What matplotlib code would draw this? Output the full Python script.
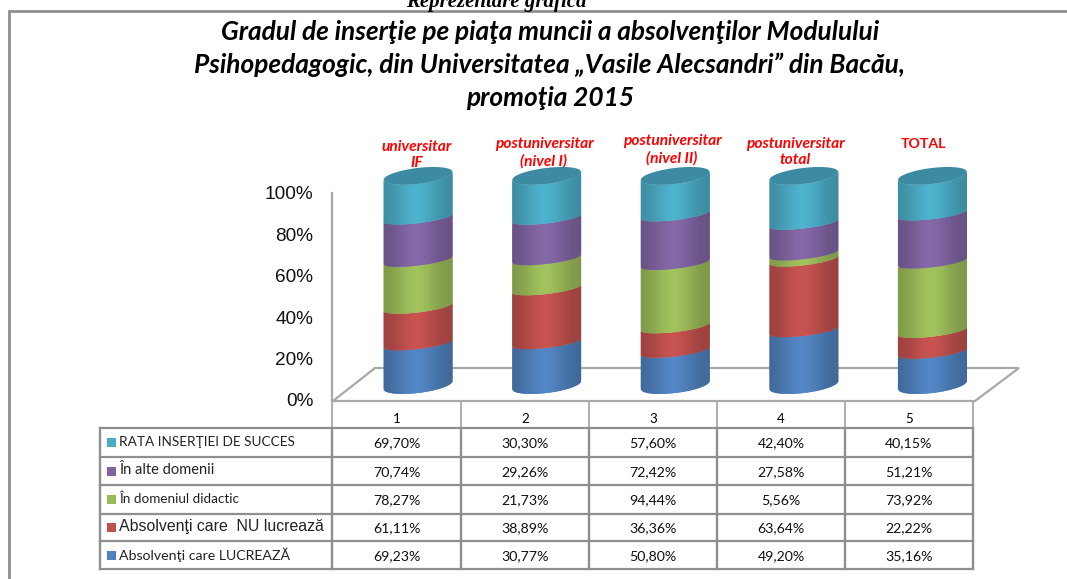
import numpy as np
import matplotlib
matplotlib.use("Agg")
import matplotlib.pyplot as plt
from matplotlib.collections import PolyCollection

W, H = 1067, 579
categories = ["1", "2", "3", "4", "5"]
group_labels = ["universitar\nIF", "postuniversitar\n(nivel I)", "postuniversitar\n(nivel II)",
                "postuniversitar\ntotal", "TOTAL"]
lucreaza = [69.23, 30.77, 50.80, 49.20, 35.16]
nu_lucreaza = [61.11, 38.89, 36.36, 63.64, 22.22]
didactic = [78.27, 21.73, 94.44, 5.56, 73.92]
alte = [70.74, 29.26, 72.42, 27.58, 51.21]
rata = [69.70, 30.30, 57.60, 42.40, 40.15]
series_names = ["RATA INSERŢIEI DE SUCCES", "În alte domenii", "În domeniul didactic",
                "Absolvenţi care  NU lucrează", "Absolvenţi care LUCREAZĂ"]
series_values = [rata, alte, didactic, nu_lucreaza, lucreaza]
series_colors = ["#4bacc6", "#8064a2", "#9bbb59", "#c0504d", "#4f81bd"]
y_ticks = [0, 20, 40, 60, 80, 100]
title = "Gradul de inserţie pe piaţa muncii a absolvenţilor Modulului\nPsihopedagogic, din Universitatea „Vasile Alecsandri” din Bacău,\npromoţia 2015"

GREY = "#8f8f8f"
LIGHT = "#a8a8a8"
fig = plt.figure(figsize=(W / 100, H / 100), dpi=100, facecolor="white")

# pixel-space layer for the page furniture and the table
bg = fig.add_axes([0, 0, 1, 1])
bg.set_xlim(0, W); bg.set_ylim(H, 0); bg.axis("off")
bg.plot([9, 9, W], [H, 11, 11], color=GREY, lw=2, solid_joinstyle="miter")
bg.text(496, 7, "Reprezentare grafică", family="Liberation Serif", weight="bold", style="italic",
        fontsize=15, ha="center", va="baseline", color="black")
bg.text(550, 65, title, family="Lato", weight="bold", style="italic", fontsize=18.9,
        ha="center", va="center", linespacing=1.42, color="black")

# group captions
cap_xy = [(417, 155), (544, 153), (672, 150), (795, 152), (923, 144)]
for lab, (cx, cy) in zip(group_labels, cap_xy):
    upright = lab == "TOTAL"
    bg.text(cx, cy, lab, family="Lato", weight="bold", style="normal" if upright else "italic",
            fontsize=10.2 if upright else 11.2, color="#ff0000", ha="center", va="center", linespacing=1.26)

# floor
bg.plot([333, 375, 1019, 975], [401, 368, 368, 401], color=LIGHT, lw=1.6, solid_joinstyle="miter")

# table
col_x = [332, 461, 589, 717, 845, 973]
row_y = [428, 457, 485, 514, 541, 569]
name_sizes = [9.8, 10.5, 9.7, 11.4, 10.2]
bg.plot([332, 973], [401, 401], color=LIGHT, lw=1.6)
for x in col_x:
    bg.plot([x, x], [401, 428], color=LIGHT, lw=1.3)
for y in row_y:
    bg.plot([100, 973], [y, y], color=GREY, lw=1.6)
for x in [100] + col_x:
    bg.plot([x, x], [428, 569], color=GREY, lw=1.7)
for i, c in enumerate(categories):
    bg.text((col_x[i] + col_x[i + 1]) / 2, 419, c, family="Lato", fontsize=9.6, ha="center", va="center")
for r, (name, vals, col, fs) in enumerate(zip(series_names, series_values, series_colors, name_sizes)):
    yc = (row_y[r] + row_y[r + 1]) / 2
    bg.fill([107, 116, 116, 107], [yc - 4.5, yc - 4.5, yc + 4.5, yc + 4.5], color=col, lw=0)
    arial = "NU" in name
    bg.text(119, yc - 0.5, name, family="Liberation Sans" if arial else "Lato",
            fontsize=fs, ha="left", va="center", color="#222222")
    for i, v in enumerate(vals):
        bg.text((col_x[i] + col_x[i + 1]) / 2, yc + 0.7, f"{v:.2f}%".replace(".", ","), family="Lato",
                fontsize=10.2, ha="center", va="center", color="#111111")

# chart layer: x by category, y in percent
left, right, y0px, y100px = 332, 1019, 400, 193
spacing, first = 128.6, 418
ax = fig.add_axes([left / W, 1 - y0px / H, (right - left) / W, (y0px - y100px) / H])
ax.patch.set_alpha(0)
ax.set_xlim(1 + (left - first) / spacing, 1 + (right - first) / spacing)
ax.set_ylim(0, 100)
ax.set_xticks([])
ax.set_yticks(y_ticks)
ax.set_yticklabels([f"{t}%" for t in y_ticks], family="Liberation Sans", fontsize=13.7, color="#111111")
ax.tick_params(axis="y", length=0, pad=13.5)
for s in ["top", "right", "bottom"]:
    ax.spines[s].set_visible(False)
ax.spines["left"].set_color(LIGHT)
ax.spines["left"].set_linewidth(1.6)

half = 34.5 / spacing      # half width of a cylinder
end_arc = 8 / 2.07         # front bulge of the bottom and top rims
mid_arc = 5.5 / 2.07       # front bulge of the rims between segments
tilt = 4 / 2.07            # rim rises towards the right
lift, scale = 7.25, 1.01   # depth offset of the cylinders
N = 46
edges = np.linspace(-1, 1, N + 1)


def shade(hexcol, u):
    rgb = np.array(matplotlib.colors.to_rgb(hexcol))
    k = 0.80 + 0.24 * np.exp(-((u + 0.05) / 0.62) ** 2)
    return np.clip(rgb * k, 0, 1)


def rim(u, level, bulge, sign=-1):
    return level + sign * bulge * np.sqrt(np.clip(1 - u ** 2, 0, 1)) + tilt * u


stack_order = list(zip(series_values, series_colors))[::-1]
totals = np.sum(series_values, axis=0)
for i in range(len(categories)):
    cx = i + 1
    base = 0.0
    for k, (vals, col) in enumerate(stack_order):
        top = base + vals[i] / totals[i] * 100
        low, high = lift + base * scale, lift + top * scale
        low_arc = end_arc if k == 0 else mid_arc
        high_arc = end_arc if k == len(stack_order) - 1 else mid_arc
        polys, colors = [], []
        # strips overlap the next one so that no seams show between them
        for j, (a, b) in enumerate(zip(edges[:-1], edges[1:])):
            b2 = edges[min(j + 2, N)]
            uu = np.linspace(a, b2, 6)
            xs = cx + half * uu
            ylow, yhigh = rim(uu, low, low_arc), rim(uu, high, high_arc)
            polys.append(np.r_[np.c_[xs, ylow], np.c_[xs[::-1], yhigh[::-1]]])
            colors.append(shade(col, (a + b) / 2))
        ax.add_collection(PolyCollection(polys, facecolors=colors, edgecolors="none", clip_on=False))
        base = top
    # top face
    uu = np.linspace(-1, 1, 80)
    level = lift + 100 * scale
    xs = cx + half * np.r_[uu, uu[::-1]]
    ys = np.r_[rim(uu, level, end_arc, -1), rim(uu[::-1], level, end_arc, 1)]
    ax.fill(xs, ys, color="#3d8ba3", lw=0, clip_on=False)

fig.savefig("out.png", dpi=100)
